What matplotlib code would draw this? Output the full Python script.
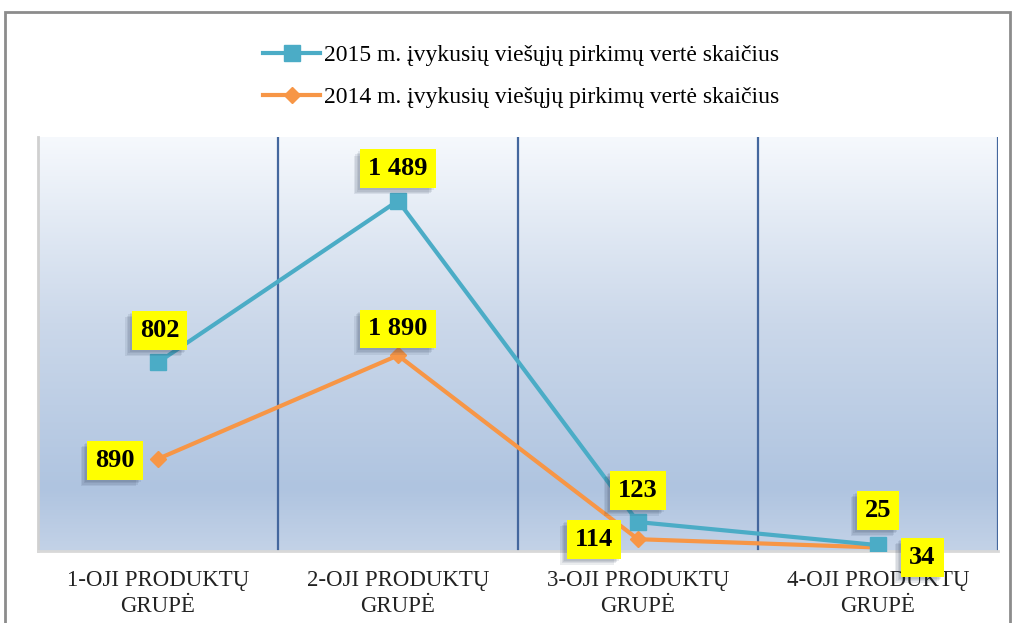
import matplotlib
matplotlib.use("Agg")
import matplotlib.pyplot as plt
import numpy as np
from matplotlib import patheffects as pe
from matplotlib.patches import Rectangle
from matplotlib.colors import LinearSegmentedColormap

categories = ["1-OJI PRODUKTŲ\nGRUPĖ", "2-OJI PRODUKTŲ\nGRUPĖ",
              "3-OJI PRODUKTŲ\nGRUPĖ", "4-OJI PRODUKTŲ\nGRUPĖ"]
values_2015 = [802, 1489, 123, 25]
values_2014 = [890, 1890, 114, 34]
labels_2015 = ["802", "1 489", "123", "25"]
labels_2014 = ["890", "1 890", "114", "34"]
name_2015 = "2015 m. įvykusių viešųjų pirkimų vertė skaičius"
name_2014 = "2014 m. įvykusių viešųjų pirkimų vertė skaičius"

plt.rcParams['font.family'] = ['Liberation Serif', 'DejaVu Serif']

blue = "#4bacc6"
orange = "#f79646"
YMAX_2015 = 1760
YMAX_2014 = 4000

fig = plt.figure(figsize=(10.14, 6.23), dpi=100)
# outer frame
fig.patches.append(Rectangle((5/1014, -0.1), 1005/1014, 1.1 - 12/623,
                             transform=fig.transFigure, fill=False,
                             edgecolor="#8c8c8c", linewidth=2))

ax2 = fig.add_axes([38/1014, 1 - 551/623, 960/1014, 414/623])  # 2014 (secondary scale), background
ax = ax2.twinx()                                                 # 2015
n = len(categories)
x = np.arange(n)
for a in (ax, ax2):
    a.set_xlim(-0.5, n - 0.5)
    a.set_yticks([])
ax.set_ylim(0, YMAX_2015)
ax2.set_ylim(0, YMAX_2014)

cmap = LinearSegmentedColormap.from_list("bg", [(0, "#c3d2e7"), (0.15, "#afc4e0"),
                                                (0.55, "#cbd8ea"), (1, "#f6f9fd")])
ax2.imshow(np.linspace(0, 1, 256).reshape(-1, 1), aspect="auto", cmap=cmap,
           extent=(-0.5, n - 0.5, 0, YMAX_2014), origin="lower", zorder=0)
for xv in np.arange(0.5, n, 1.0):
    ax2.axvline(xv, color="#44679e", linewidth=1.6, zorder=1)

for s in ax.spines.values():
    s.set_visible(False)
for side in ["top", "right"]:
    ax2.spines[side].set_visible(False)
ax2.spines["left"].set_color("#d0d0d0")
ax2.spines["bottom"].set_color("#d8d8d8")
ax2.spines["left"].set_linewidth(2)
ax2.spines["bottom"].set_linewidth(2)
ax2.set_xticks(x)
ax2.set_xticklabels(categories, fontsize=16.5, linespacing=1.3, color="#222222")
ax2.tick_params(axis="x", length=0, pad=14)

l14, = ax2.plot(x, values_2014, color=orange, linewidth=3, marker="D",
                markersize=8, zorder=4, label=name_2014)
l15, = ax.plot(x, values_2015, color=blue, linewidth=3, marker="s",
               markersize=11, zorder=5, label=name_2015)

shadow = [pe.SimplePatchShadow(offset=(-o, -o), shadow_rgbFace="#1f2f4a", alpha=0.09)
          for o in (4.5, 3.5, 2.5, 1.5)] + [pe.Normal()]

def boxlabel(axis, xv, yv, txt, dx, dy):
    t = axis.annotate(txt, (xv, yv), xytext=(dx, dy), textcoords="offset points",
                      ha="center", va="center", fontsize=19, fontweight="bold",
                      color="black", zorder=10, annotation_clip=False,
                      bbox=dict(boxstyle="square,pad=0.3", facecolor="#ffff00",
                                edgecolor="none"))
    t.get_bbox_patch().set_path_effects(shadow)
    return t

offs_2015 = [(1, 23), (0, 23), (0, 23), (0, 25)]
offs_2014 = [(-31, -1), (0, 19), (-32, 0), (32, -7)]
for i in range(n):
    boxlabel(ax, x[i], values_2015[i], labels_2015[i], *offs_2015[i])
    boxlabel(ax2, x[i], values_2014[i], labels_2014[i], *offs_2014[i])

fig.legend(handles=[l15, l14], loc="upper center", bbox_to_anchor=(0.514, 0.962),
           frameon=False, fontsize=17, labelspacing=0.85, handlelength=2.4,
           handletextpad=0.15)

fig.savefig("out.png", dpi=100)
